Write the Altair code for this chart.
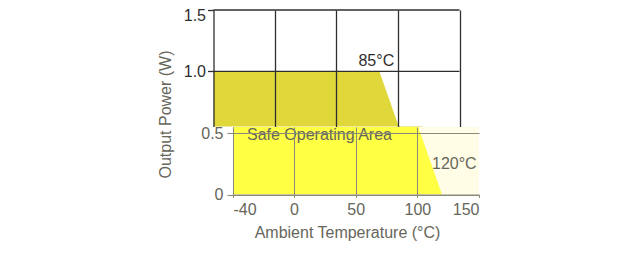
import altair as alt
import pandas as pd

# ---- data ----
temp = [-40, 85, 120]          # ambient temperature (°C)
power = [1.0, 1.0, 0.0]        # output power (W)
x_ticks = [-40, 0, 50, 100, 150]
y_ticks_upper = [1.0, 1.5]
y_ticks_lower = [0.0, 0.5]
split = 0.55                    # level where the two panels meet

ann_upper_text = ["85°C"]
ann_upper_x = [85]
ann_upper_y = [1.0]
ann_area_text = ["Safe Operating Area"]
ann_area_x = [-40]
ann_area_y = [0.448]
ann_end_text = ["120°C"]
ann_end_x = [120]
ann_end_y = [0.21]

FONT = "Liberation Sans"
DARK = "#2e2e2e"
OLIVE = "#e0d83a"
YELLOW = "#ffff44"
CREAM = "#fffde6"
GRAY = "#8a8a78"
LGRAY = "#66665a"
FS = 16

curve = pd.DataFrame({"temp": temp, "power": power})
hl_upper = pd.DataFrame({"y": y_ticks_upper,
                         "x0": [x_ticks[0]] * len(y_ticks_upper),
                         "x1": [x_ticks[-1]] * len(y_ticks_upper)})
ann_u = pd.DataFrame({"label": ann_upper_text, "x": ann_upper_x, "y": ann_upper_y})
ann_a = pd.DataFrame({"label": ann_area_text, "x": ann_area_x, "y": ann_area_y})
ann_e = pd.DataFrame({"label": ann_end_text, "x": ann_end_x, "y": ann_end_y})

xs_top = alt.Scale(domain=[-40, 0, 150], range=[-19.5, 41.5, 226.5])
xs_bot = alt.Scale(domain=[-40, 0, 150], range=[0, 61, 246])
ys_top = alt.Scale(domain=[split, 1.5], nice=False, zero=False)
ys_bot = alt.Scale(domain=[0, split], nice=False)

H_TOP = 116.6
H_BOT = 67.5
W = 246

X_TOP_AXIS = alt.Axis(values=x_ticks[1:], grid=True, labels=False, ticks=False,
                      domain=False, title=None, gridColor=DARK, gridWidth=1.3,
                      gridOpacity=1, zindex=1)
Y_TOP_AXIS = alt.Axis(values=y_ticks_upper, format=".1f", grid=False, offset=19.5,
                      domainColor=DARK, domainWidth=1.3, tickColor=DARK, tickWidth=1.3,
                      tickSize=6, labelPadding=2, labelColor=DARK,
                      labelOffset={"condition": {"test": "datum.value == 1.5", "value": 5}, "value": 0},
                      labelFont=FONT, labelFontSize=FS, zindex=1,
                      title="Output Power (W)", titleFont=FONT, titleFontSize=FS,
                      titleFontWeight="normal", titleColor=LGRAY,
                      titleX=-63 + 19.5, titleY=104, titleBaseline="alphabetic")
X_BOT_AXIS = alt.Axis(values=x_ticks, grid=True, zindex=1,
                      labelExpr="'' + datum.value",
                      gridColor=GRAY, gridWidth=1,
                      gridOpacity={"condition": {"test": "datum.value == 150", "value": 0}, "value": 1},
                      domainColor=GRAY, tickColor=GRAY, tickSize=3, labelPadding=4,
                      labelColor=LGRAY, labelFont=FONT, labelFontSize=FS,
                      title="Ambient Temperature (°C)", titleFont=FONT, titleFontSize=FS,
                      titleFontWeight="normal", titleColor=LGRAY,
                      titleX=114, titleY=43, titleBaseline="alphabetic")
Y_BOT_AXIS = alt.Axis(values=y_ticks_lower, grid=True, zindex=1,
                      labelExpr="datum.value == 0 ? '0' : format(datum.value, '.1f')",
                      gridColor=GRAY, gridWidth=1, domainColor=GRAY, tickColor=GRAY,
                      tickSize=6, labelPadding=4, labelColor=LGRAY, labelFont=FONT,
                      labelFontSize=FS, title=None)

# ---------- upper panel ----------
top_area = alt.Chart(curve).mark_area(color=OLIVE, opacity=1).encode(
    x=alt.X("temp:Q", scale=xs_top, axis=X_TOP_AXIS),
    y=alt.Y("power:Q", scale=ys_top, axis=Y_TOP_AXIS),
    y2=alt.datum(split),
)
top_rules = alt.Chart(hl_upper).mark_rule(color=DARK, strokeWidth=1.3).encode(
    x=alt.X("x0:Q", scale=xs_top, axis=X_TOP_AXIS),
    x2="x1:Q",
    y=alt.Y("y:Q", scale=ys_top, axis=Y_TOP_AXIS),
)
top_text = alt.Chart(ann_u).mark_text(align="center", baseline="bottom", dy=-2, dx=-3,
                                      font=FONT, fontSize=FS, color=DARK).encode(
    x=alt.X("x:Q", scale=xs_top, axis=X_TOP_AXIS),
    y=alt.Y("y:Q", scale=ys_top, axis=Y_TOP_AXIS),
    text="label:N",
)
top = alt.layer(top_area, top_rules, top_text).properties(
    width=W, height=H_TOP, view=alt.ViewBackground(strokeOpacity=0, strokeWidth=0))

# ---------- lower panel ----------
bot_area = alt.Chart(curve).mark_area(color=YELLOW, opacity=1, clip=True).encode(
    x=alt.X("temp:Q", scale=xs_bot, axis=X_BOT_AXIS),
    y=alt.Y("power:Q", scale=ys_bot, axis=Y_BOT_AXIS),
)
area_text = alt.Chart(ann_a).mark_text(align="left", baseline="alphabetic", dx=14,
                                       font=FONT, fontSize=FS, color=LGRAY).encode(
    x=alt.X("x:Q", scale=xs_bot, axis=X_BOT_AXIS),
    y=alt.Y("y:Q", scale=ys_bot, axis=Y_BOT_AXIS),
    text="label:N",
)
end_text = alt.Chart(ann_e).mark_text(align="left", baseline="alphabetic", dx=-10,
                                      font=FONT, fontSize=FS, color=LGRAY).encode(
    x=alt.X("x:Q", scale=xs_bot, axis=X_BOT_AXIS),
    y=alt.Y("y:Q", scale=ys_bot, axis=Y_BOT_AXIS),
    text="label:N",
)
bot = alt.layer(bot_area, area_text, end_text).properties(
    width=W, height=H_BOT,
    view=alt.ViewBackground(fill=CREAM, strokeOpacity=0, strokeWidth=0))

chart = alt.vconcat(top, bot, spacing=0, bounds="flush").properties(
    padding={"left": 149, "top": -1, "right": 5, "bottom": 5}
).configure_view(strokeOpacity=0, strokeWidth=0).configure(background="white")

chart.save("out.html", embed_options={"renderer": "svg", "actions": False})
